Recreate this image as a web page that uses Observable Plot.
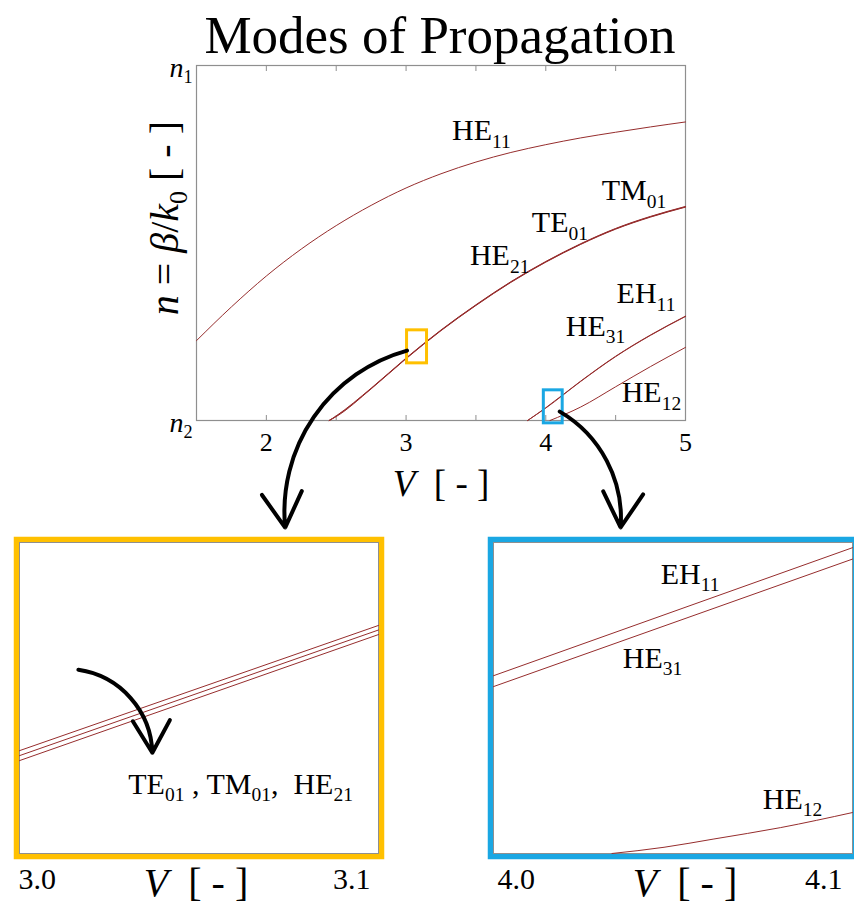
<!DOCTYPE html>
<html><head><meta charset="utf-8">
<script src="https://cdn.jsdelivr.net/npm/d3@7"></script>
<script src="https://cdn.jsdelivr.net/npm/@observablehq/plot@0.6"></script>
<style>
html,body{margin:0;padding:0;background:#fff;overflow:hidden;}
#page{position:relative;width:854px;height:905px;overflow:hidden;font-family:"Liberation Serif","Times New Roman",serif;}
#title{position:absolute;left:0;width:880px;top:9px;text-align:center;font-size:53px;line-height:53px;color:#000;font-family:"Liberation Serif","Times New Roman",serif;}
#page svg{position:absolute;}
svg text{white-space:pre;font-family:"Liberation Serif","Times New Roman",serif;}
</style></head><body><div id="page"><div id="title">Modes of Propagation</div></div>
<script>
// ---------- main chart data (V, normalized n between n2=0 and n1=1) ----------
const V_HE11 = [1.5,1.75,2.0,2.25,2.5,2.75,3.0,3.25,3.5,3.75,4.0,4.25,4.5,4.75,5.0];
const B_HE11 = [0.225,0.320,0.407,0.483,0.549,0.606,0.655,0.695,0.728,0.755,0.777,0.796,0.812,0.827,0.841];
const V_G01  = [2.45,2.5,2.75,3.0,3.25,3.5,3.75,4.0,4.25,4.5,4.75,5.0];
const B_TE01 = [0,0.013,0.091,0.176,0.255,0.326,0.391,0.448,0.498,0.541,0.575,0.603];
const B_HE21 = [0,0.012,0.090,0.175,0.254,0.325,0.390,0.447,0.497,0.540,0.574,0.602];
const B_TM01 = [0,0.011,0.089,0.174,0.253,0.324,0.389,0.446,0.496,0.539,0.573,0.601];
const V_G11  = [3.87,4.0,4.25,4.5,4.75,5.0];
const B_EH11 = [0,0.036,0.111,0.181,0.241,0.294];
const B_HE31 = [0,0.035,0.110,0.180,0.240,0.293];
const V_HE12 = [4.03,4.25,4.5,4.75,5.0];
const B_HE12 = [0,0.038,0.095,0.152,0.206];

const mainLabelText = ["HE_{11}","TM_{01}","TE_{01}","HE_{21}","EH_{11}","HE_{31}","HE_{12}"];
const mainLabelV = [3.329,4.40,3.90,3.457,4.507,4.143,4.543];
const mainLabelB = [0.789,0.620,0.530,0.437,0.330,0.239,0.051];

const xTickLabels = [2,3,4,5];
const xTickMarks = [2,2.5,3,3.5,4,4.5];
const yTickLabels = ["*n*_{2}","*n*_{1}"];
const yTickValues = [0,1];
const yTitle = "*n* = *β*/*k*_{0} [ - ]";
const xTitle = "*V*  [ - ]";

// zoom boxes in main chart (V range, n range)
const yellowBox = {V1:3.007, V2:3.15, b1:0.161, b2:0.254};
const blueBox   = {V1:3.986, V2:4.121, b1:-0.008, b2:0.085};

// ---------- yellow inset (V 3.0 – 3.1) ----------
const V_Y = [3.0, 3.1];
const B_Y_TE01 = [0.1748, 0.2050];
const B_Y_TM01 = [0.1736, 0.2039];
const B_Y_HE21 = [0.1724, 0.2028];
const yInsetLabel = "TE_{01} , TM_{01},  HE_{21}";
const yInsetLabelPos = {V:3.0303, b:0.1644};
const yInsetArrow = {V1:3.0164, b1:0.1943, V2:3.037, b2:0.1743};
const yInsetTicks = ["3.0","3.1"];

// ---------- blue inset (V 4.0 – 4.1) ----------
const V_B = [4.0, 4.1];
const B_B_EH11 = [0.0343, 0.0590];
const B_B_HE31 = [0.0322, 0.0568];
const V_B_HE12 = [4.033,4.0475,4.0614,4.080,4.1];
const B_B_HE12 = [0,0.0012,0.0028,0.0050,0.0079];
const bInsetLabelText = ["EH_{11}","HE_{31}","HE_{12}"];
const bInsetLabelV = [4.0466,4.036,4.075];
const bInsetLabelB = [0.052,0.0358,0.0086];
const bInsetTicks = ["4.0","4.1"];

// ---------- styles ----------
const LINE = "#962d2d", FRAME = "#8f8f8f", YEL = "#FFC000", BLU = "#1AA7E3";
const FONT = "Liberation Serif, Times New Roman, serif";

function table(V, B){ return V.map((v,i)=>({V:v, b:B[i]})); }

const mainLines = [[V_HE11,B_HE11],[V_G01,B_TE01],[V_G01,B_HE21],[V_G01,B_TM01],[V_G11,B_EH11],[V_G11,B_HE31],[V_HE12,B_HE12]];
const mainLabels = mainLabelText.map((t,i)=>({t, V:mainLabelV[i], b:mainLabelB[i]}));

const main = Plot.plot({
  width: 854, height: 505,
  marginLeft: 196, marginRight: 169, marginTop: 65, marginBottom: 85,
  x: {domain: [1.5, 5]},
  y: {domain: [0, 1], axis: null},
  style: {fontFamily: FONT, background: "transparent", overflow: "visible"},
  marks: [
    Plot.frame({stroke: FRAME, strokeWidth: 1.2}),
    Plot.axisX(xTickMarks, {anchor: "bottom", tickSize: -5, tickFormat: () => "", label: null, stroke: FRAME}),
    Plot.axisX(xTickMarks, {anchor: "top", tickSize: -5, tickFormat: () => "", label: null, stroke: FRAME}),
    Plot.text(xTickLabels, {x: d => d, frameAnchor: "bottom", dy: 30, lineAnchor: "bottom", fontSize: 26, fontFamily: FONT}),
    Plot.text([xTitle], {frameAnchor: "bottom", dy: 75, lineAnchor: "bottom", fontSize: 37, fontFamily: FONT}),
    Plot.text(yTickLabels, {y: yTickValues, frameAnchor: "left", dx: -4, dy: 11, textAnchor: "end", lineAnchor: "bottom", fontSize: 28, fontFamily: FONT}),
    Plot.text([yTitle], {frameAnchor: "left", y: () => 0.57, rotate: -90, dx: -19, textAnchor: "middle", lineAnchor: "bottom", fontSize: 40, fontFamily: FONT}),
    ...mainLines.map(([V,B]) => Plot.line(table(V,B), {x: "V", y: "b", stroke: LINE, strokeWidth: 1, curve: "monotone-x"})),
    Plot.text(mainLabels, {x: "V", y: "b", text: "t", textAnchor: "start", lineAnchor: "bottom", fontSize: 30, fontFamily: FONT}),
    Plot.rect([yellowBox], {x1: "V1", x2: "V2", y1: "b1", y2: "b2", fill: "none", stroke: YEL, strokeWidth: 3}),
    Plot.rect([blueBox], {x1: "V1", x2: "V2", y1: "b1", y2: "b2", fill: "none", stroke: BLU, strokeWidth: 3})
  ]
});
main.style.left = "0px"; main.style.top = "0px";

function insetPlot({domainX, domainY, border, lines, extra}) {
  return Plot.plot({
    width: 400, height: 375,
    marginLeft: 19, marginRight: 22, marginTop: 12, marginBottom: 52,
    x: {domain: domainX, axis: null},
    y: {domain: domainY, axis: null},
    style: {fontFamily: FONT, background: "transparent", overflow: "visible"},
    marks: [
      Plot.frame({stroke: border, strokeWidth: 5.5, inset: -3}),
      Plot.frame({stroke: FRAME, strokeWidth: 1}),
      ...lines.map(([V,B]) => Plot.line(table(V,B), {x: "V", y: "b", stroke: LINE, strokeWidth: 1, curve: "monotone-x"})),
      ...extra
    ]
  });
}

const yInset = insetPlot({
  domainX: [3.0, 3.1], domainY: [0.15, 0.225], border: YEL,
  lines: [[V_Y,B_Y_TE01],[V_Y,B_Y_TM01],[V_Y,B_Y_HE21]],
  extra: [
    Plot.text([yInsetLabel], {x: () => yInsetLabelPos.V, y: () => yInsetLabelPos.b, textAnchor: "start", lineAnchor: "bottom", fontSize: 30, fontFamily: FONT}),
    Plot.arrow([yInsetArrow], {x1: "V1", y1: "b1", x2: "V2", y2: "b2", bend: 40, stroke: "#000", strokeWidth: 4, headLength: 15}),
    Plot.text([yInsetTicks[0]], {x: () => V_Y[0], frameAnchor: "bottom", dy: 35, dx: -1, textAnchor: "start", lineAnchor: "bottom", fontSize: 30, fontFamily: FONT}),
    Plot.text([yInsetTicks[1]], {x: () => V_Y[1], frameAnchor: "bottom", dy: 35, dx: -8, textAnchor: "end", lineAnchor: "bottom", fontSize: 30, fontFamily: FONT}),
    Plot.text([xTitle], {frameAnchor: "bottom", dy: 42, dx: -3, lineAnchor: "bottom", fontSize: 40, fontFamily: FONT})
  ]
});
yInset.style.left = "0px"; yInset.style.top = "530px";

const bInset = insetPlot({
  domainX: [4.0, 4.1], domainY: [0, 0.06], border: BLU,
  lines: [[V_B,B_B_EH11],[V_B,B_B_HE31],[V_B_HE12,B_B_HE12]],
  extra: [
    Plot.text(bInsetLabelText.map((t,i)=>({t, V:bInsetLabelV[i], b:bInsetLabelB[i]})), {x: "V", y: "b", text: "t", textAnchor: "start", lineAnchor: "bottom", fontSize: 30, fontFamily: FONT}),
    Plot.text([bInsetTicks[0]], {x: () => V_B[0], frameAnchor: "bottom", dy: 35, dx: 4, textAnchor: "start", lineAnchor: "bottom", fontSize: 30, fontFamily: FONT}),
    Plot.text([bInsetTicks[1]], {x: () => V_B[1], frameAnchor: "bottom", dy: 35, dx: -10, textAnchor: "end", lineAnchor: "bottom", fontSize: 30, fontFamily: FONT}),
    Plot.text([xTitle], {frameAnchor: "bottom", dy: 42, dx: 12, lineAnchor: "bottom", fontSize: 40, fontFamily: FONT})
  ]
});
bInset.style.left = "474px"; bInset.style.top = "530px";

// ---------- connectors: from zoom boxes in main chart to the insets ----------
const offs = {main: [0,0], yellow: [0,530], blue: [474,530]};
const plots = {main, yellow: yInset, blue: bInset};
function px(plotName, V, b){
  const p = plots[plotName];
  return [p.scale("x").apply(V) + offs[plotName][0], p.scale("y").apply(b) + offs[plotName][1]];
}
const connA = (() => { const [x1,y1] = px("main", yellowBox.V1, 0.197); const [x2,y2] = px("yellow", 3.074, 0.2286); return {x1,y1,x2,y2}; })();
const connB = (() => { const [x1,y1] = px("main", 4.1, 0.025); const [x2,y2] = px("blue", 4.0354, 0.0629); return {x1,y1,x2,y2}; })();

const overlay = Plot.plot({
  width: 854, height: 905, margin: 0,
  x: {type: "identity", axis: null}, y: {type: "identity", axis: null},
  style: {background: "transparent", overflow: "visible"},
  marks: [
    Plot.arrow([connA], {x1: "x1", y1: "y1", x2: "x2", y2: "y2", bend: -40, stroke: "#000", strokeWidth: 4, headLength: 15}),
    Plot.arrow([connB], {x1: "x1", y1: "y1", x2: "x2", y2: "y2", bend: 32, stroke: "#000", strokeWidth: 4, headLength: 15})
  ]
});
overlay.style.left = "0px"; overlay.style.top = "0px"; overlay.style.pointerEvents = "none";

const page = document.getElementById("page");
[main, yInset, bInset, overlay].forEach(s => page.appendChild(s));

// ---------- rich text: *italic* and _{subscript} ----------
const NS = "http://www.w3.org/2000/svg";
function richify(root){
  root.querySelectorAll("text").forEach(t => {
    const s = t.textContent;
    if (!/[*_]/.test(s)) return;
    const fs = parseFloat(getComputedStyle(t).fontSize);
    const subFs = fs * 0.65, shift = fs * 0.24;
    const parts = s.split(/(\*[^*]+\*|_\{[^}]*\})/).filter(p => p.length);
    t.textContent = "";
    let down = false;
    for (const p of parts) {
      const ts = document.createElementNS(NS, "tspan");
      if (p.startsWith("_{")) {
        ts.textContent = p.slice(2, -1);
        ts.setAttribute("font-size", subFs);
        if (!down) { ts.setAttribute("dy", shift); down = true; }
      } else {
        let txt = p;
        if (p.startsWith("*")) { txt = p.slice(1, -1); ts.setAttribute("font-style", "italic"); }
        ts.textContent = txt;
        if (down) { ts.setAttribute("dy", -shift); down = false; }
      }
      t.appendChild(ts);
    }
  });
}
richify(page);
</script>
</body></html>
